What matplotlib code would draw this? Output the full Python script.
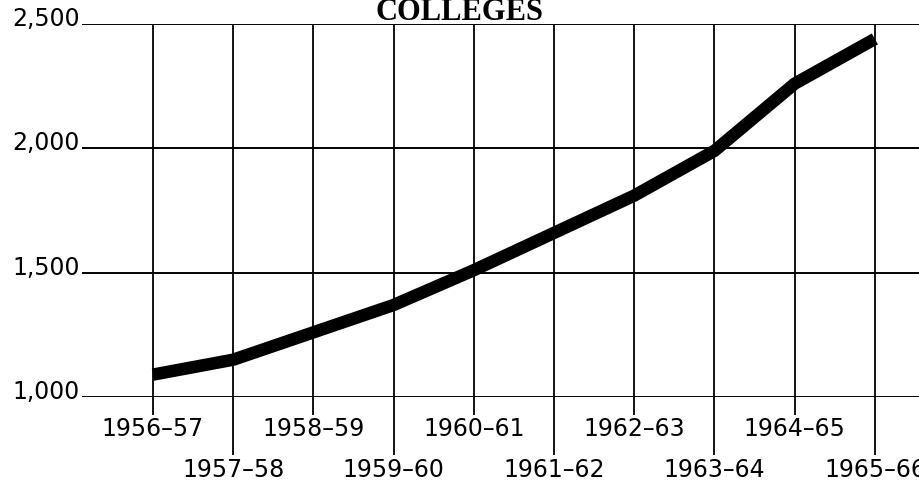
import matplotlib
matplotlib.use("Agg")
import matplotlib.pyplot as plt
import numpy as np

# school years and values
years = ["1956–57", "1957–58", "1958–59", "1959–60", "1960–61",
         "1961–62", "1962–63", "1963–64", "1964–65", "1965–66"]
values = [1090, 1150, 1260, 1370, 1510, 1660, 1810, 1990, 2260, 2440]
yticks = [1000, 1500, 2000, 2500]
ylabels = ["1,000", "1,500", "2,000", "2,500"]

fig = plt.figure(figsize=(9.19, 4.84), dpi=100)
ax = fig.add_axes([82 / 919, 87 / 484, 837 / 919, 373 / 484])

x = np.arange(len(years))
ax.set_xlim(-0.885, len(years) - 1 + 0.55)
ax.set_ylim(1000, 2500)

# horizontal rules
for yv in yticks:
    ax.axhline(yv, color="black", lw=1.4, zorder=1)

# vertical rules, dropping down to the staggered labels
for i in x:
    low = 927 if i % 2 == 0 else 767
    ax.vlines(i, low, 2500, color="black", lw=1.3, clip_on=False, zorder=1)

ax.plot(x, values, color="black", lw=9, solid_capstyle="butt",
        solid_joinstyle="round", zorder=3)

# labels
for i, lab in enumerate(years):
    ypos = 872 if i % 2 == 0 else 708
    ax.text(i, ypos, lab, ha="center", va="center", fontsize=17,
            family="DejaVu Sans", clip_on=False)
for yv, lab in zip(yticks, ylabels):
    ax.text(-0.91, yv + 20, lab, ha="right", va="center", fontsize=17,
            family="DejaVu Sans", clip_on=False)

fig.text(0.5, 1 - 20 / 484, "COLLEGES", ha="center", va="baseline",
         fontsize=22, fontweight="bold", family="Liberation Serif")

for s in ax.spines.values():
    s.set_visible(False)
ax.set_xticks([])
ax.set_yticks([])

fig.savefig("out.png", dpi=100)
